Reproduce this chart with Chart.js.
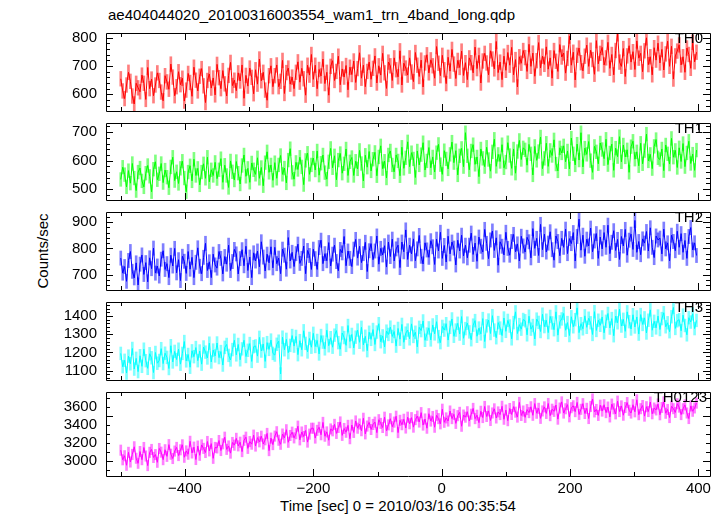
<!DOCTYPE html>
<html>
<head>
<meta charset="utf-8">
<script src="https://cdn.jsdelivr.net/npm/chart.js@4.4.1/dist/chart.umd.min.js"></script>
<style>
  body { margin:0; background:#fff; width:724px; height:516px; position:relative; overflow:hidden;
         font-family:"Liberation Sans", Arial, sans-serif; }
  canvas { position:absolute; left:0; }
  .lbl { position:absolute; font-size:15px; line-height:15px; color:#000; white-space:nowrap; }
</style>
</head>
<body>
<div class="lbl" style="left:108px;top:7px">ae404044020_20100316003554_wam1_trn_4band_long.qdp</div>
<div class="lbl" id="ylab" style="left:42px;top:251px;transform:translate(-50%,-50%) rotate(-90deg)">Counts/sec</div>
<div class="lbl" style="left:398px;top:498px;transform:translateX(-50%)">Time [sec] 0 = 2010/03/16 00:35:54</div>
<script>
// light curve, 3 s bins (first bin at -500 s)
const t0 = -500, dt = 3;

const th0 = [
  655,612,585,633,678,646,594,566,639,623, 609,668,639,582,695,620,654,595,633,676,
  649,608,577,666,644,618,707,661,595,627, 680,634,657,576,615,674,642,593,696,650,
  612,664,691,630,571,649,672,622,658,598, 706,659,620,684,637,594,667,713,631,650,
  613,676,647,704,586,667,629,693,660,602, 687,636,725,648,678,615,579,666,701,627,
  666,704,627,646,720,603,677,693,636,661, 620,678,715,643,692,655,597,703,668,741,
  653,703,620,688,665,725,638,678,597,699, 719,649,681,735,634,690,661,702,616,696,
  670,718,642,691,747,657,703,627,681,714, 653,692,736,640,701,668,745,676,621,714,
  701,649,729,687,662,754,633,710,693,668, 729,679,645,748,703,663,721,626,711,740,
  676,722,701,657,769,710,666,738,687,638, 731,682,759,707,656,720,695,753,667,712,
  652,729,712,676,767,691,738,640,718,745, 711,669,754,725,690,787,677,714,652,735,
  685,748,703,766,669,723,626,733,710,755, 730,681,777,699,746,664,719,783,693,735,
  706,768,689,729,657,755,717,681,776,732, 746,675,727,806,703,749,651,738,764,712,
  683,735,774,699,756,723,671,790,708,745, 766,704,729,784,692,741,669,755,814,714,
  699,762,663,736,772,714,751,688,789,728, 745,680,754,800,705,733,669,765,721,781,
  711,759,686,743,788,699,770,654,736,753, 775,704,733,678,764,741,692,784,715,749
];
const th1 = [
  534,577,551,508,565,521,590,539,495,560, 574,529,508,556,583,545,491,570,596,533,
  554,590,523,567,542,505,578,612,530,561, 520,573,598,539,491,560,582,529,605,548,
  573,515,560,589,538,612,526,568,548,594, 537,568,607,524,584,548,506,599,561,532,
  597,556,518,583,620,545,573,524,592,568, 552,610,538,576,512,593,631,559,585,531,
  593,538,585,618,552,574,522,602,642,559, 535,594,569,612,578,516,601,626,552,585,
  609,567,634,549,591,620,558,535,596,643, 575,617,533,602,625,556,589,641,548,596,
  611,548,598,571,636,590,529,619,577,632, 564,605,629,547,613,652,572,598,539,620,
  634,585,561,620,599,547,647,573,610,666, 579,628,606,541,634,585,621,663,567,599,
  646,575,613,560,628,657,586,552,635,606, 571,622,665,593,635,550,617,643,579,698,
  617,568,634,656,587,613,544,641,608,579, 647,604,563,631,675,580,622,597,656,575,
  595,663,618,573,641,556,632,671,604,645, 638,584,657,624,550,650,601,632,683,572,
  608,661,580,636,618,673,588,564,645,627, 652,596,634,571,679,624,585,658,602,698,
  578,644,622,667,600,559,650,631,589,662, 639,607,675,586,627,658,566,644,614,684,
  596,655,613,638,559,649,668,605,631,582, 661,589,635,693,599,622,572,650,674,610,
  604,641,565,655,624,588,678,612,636,576, 645,597,660,579,627,668,590,623,566,637
];
const th2 = [
  763,706,731,675,754,788,713,688,745,661, 740,775,701,746,673,764,723,801,706,733,
  695,759,791,720,742,689,774,733,800,707, 757,678,770,751,705,788,721,766,689,747,
  802,732,704,766,819,716,749,689,778,737, 725,788,762,703,769,740,812,716,750,796,
  779,703,761,795,734,808,716,767,689,783, 752,790,730,825,767,714,778,745,806,726,
  804,742,763,704,797,774,721,841,752,785, 731,780,816,743,762,809,704,792,773,720,
  797,761,720,803,831,742,780,753,822,733, 778,812,750,715,796,783,845,734,790,762,
  731,797,834,763,808,746,780,823,712,791, 818,757,790,847,740,800,775,810,729,824,
  769,835,752,798,812,727,824,787,870,758, 812,779,836,753,798,849,770,741,821,794,
  766,829,806,739,835,790,861,762,811,748, 846,779,824,801,737,831,790,850,771,812,
  764,812,858,777,820,751,843,808,786,872, 819,761,832,866,792,840,736,825,808,775,
  861,800,774,826,853,787,817,752,846,809, 786,842,825,764,875,800,838,773,891,795,
  854,786,820,863,795,755,847,826,772,838, 804,873,780,837,818,860,752,845,911,793,
  850,770,835,809,877,787,828,856,762,843, 798,860,804,888,780,823,867,792,834,758,
  845,809,872,774,831,854,796,906,785,826, 776,836,820,864,790,878,804,765,847,832,
  839,779,873,798,821,752,850,826,791,865, 804,856,785,830,762,845,879,794,821,773
];
const th3 = [
  1195,1122,1157,1087,1180,1138,1222,1109,1168,1095, 1182,1124,1218,1155,1113,1193,1171,1090,1200,1141,
  1156,1221,1139,1196,1173,1112,1237,1148,1206,1161, 1218,1136,1195,1260,1154,1189,1119,1209,1177,1227,
  1155,1208,1136,1230,1202,1170,1251,1148,1213,1181, 1252,1172,1205,1131,1228,1244,1184,1159,1216,1267,
  1187,1244,1160,1220,1267,1178,1212,1249,1151,1232, 1236,1180,1283,1208,1247,1151,1254,1217,1268,1195,
  1186,1245,1262,1082,1284,1215,1272,1199,1239,1293, 1235,1288,1188,1265,1215,1319,1250,1203,1277,1229,
  1305,1233,1266,1192,1293,1257,1220,1322,1237,1281, 1229,1295,1320,1254,1218,1307,1282,1239,1348,1260,
  1299,1225,1284,1323,1256,1338,1242,1289,1210,1311, 1272,1326,1244,1312,1358,1259,1291,1230,1317,1299,
  1339,1288,1315,1235,1332,1273,1354,1256,1306,1323, 1275,1357,1288,1311,1231,1338,1320,1373,1267,1301,
  1335,1269,1351,1302,1369,1287,1254,1343,1323,1358, 1268,1338,1384,1289,1323,1360,1301,1397,1278,1331,
  1361,1313,1270,1350,1375,1289,1334,1302,1386,1260, 1346,1378,1304,1402,1323,1281,1364,1334,1293,1389,
  1316,1376,1345,1275,1364,1423,1304,1353,1328,1381, 1374,1297,1399,1328,1348,1274,1383,1365,1315,1410,
  1342,1377,1309,1398,1362,1325,1423,1295,1368,1384, 1414,1322,1364,1293,1396,1341,1380,1445,1309,1358,
  1330,1401,1338,1388,1363,1299,1424,1321,1377,1349, 1395,1308,1371,1414,1334,1386,1292,1400,1363,1438,
  1345,1382,1316,1423,1369,1329,1407,1340,1395,1301, 1408,1354,1390,1307,1377,1434,1322,1371,1335,1400,
  1326,1386,1418,1341,1363,1314,1396,1447,1332,1374, 1380,1319,1405,1348,1297,1391,1367,1412,1331,1376
];
const th0123 = [
  3121,3014,3059,2953,3097,2989,3074,3159,3031,2975, 3106,3015,3151,3056,2949,3097,3129,3040,3072,2986,
  3140,3099,3015,3126,3052,3183,3076,3028,3111,3152, 3061,3125,3181,3042,3113,3076,3220,3090,3155,3017,
  3167,3064,3180,3141,3095,3218,3113,3194,3030,3152, 3146,3229,3117,3192,3266,3130,3168,3088,3207,3177,
  3253,3169,3210,3105,3231,3266,3141,3217,3188,3289, 3167,3261,3214,3277,3190,3237,3308,3116,3256,3183,
  3278,3327,3232,3187,3301,3258,3349,3209,3285,3322, 3258,3305,3389,3236,3324,3273,3341,3211,3300,3366,
  3366,3256,3342,3377,3293,3431,3277,3325,3232,3358, 3337,3409,3308,3374,3436,3286,3363,3321,3398,3249,
  3402,3319,3447,3366,3413,3338,3477,3303,3390,3431, 3352,3408,3434,3317,3461,3420,3374,3489,3339,3403,
  3472,3383,3434,3500,3317,3454,3405,3466,3368,3489, 3416,3484,3378,3462,3501,3435,3540,3401,3469,3366,
  3528,3446,3497,3377,3510,3473,3415,3578,3432,3481, 3446,3558,3473,3521,3420,3506,3543,3388,3513,3489,
  3550,3446,3522,3587,3473,3511,3428,3555,3485,3609, 3497,3559,3452,3536,3582,3480,3548,3518,3611,3466,
  3569,3450,3586,3519,3607,3545,3490,3654,3508,3558, 3487,3574,3540,3605,3510,3641,3533,3588,3476,3559,
  3604,3531,3642,3506,3578,3554,3625,3467,3591,3660, 3535,3583,3629,3493,3595,3616,3551,3654,3520,3577,
  3640,3530,3588,3474,3609,3692,3548,3575,3509,3623, 3557,3628,3540,3602,3492,3635,3583,3526,3668,3552,
  3615,3511,3597,3652,3566,3535,3628,3549,3683,3517, 3584,3619,3501,3606,3552,3658,3527,3591,3570,3636,
  3516,3597,3660,3533,3575,3485,3611,3584,3542,3639, 3601,3518,3583,3626,3536,3474,3615,3555,3592,3646
];

const bands   = ['TH0','TH1','TH2','TH3','TH0123'];
const series  = [th0, th1, th2, th3, th0123];
const errHalf = [26, 24, 27, 35, 58];          // 1-sigma error bars
const yMin    = [541, 462, 642, 1049, 2833];
const yMax    = [817, 732, 938, 1477, 3770];
const yTicks  = [[600,700,800],[500,600,700],[700,800,900],[1100,1200,1300,1400],[3000,3200,3400,3600]];
const yMinor  = [20, 20, 20, 20, 100];
const xTicks  = [-400,-200,0,200,400];
const xMin = -523, xMax = 418;

const colors = ['#ff0000','#00ff00','#0000ff','#00ffff','#ff00ff'];
const lights = ['rgba(255,0,0,0.5)','rgba(0,255,0,0.5)','rgba(0,0,255,0.5)','rgba(0,255,255,0.5)','rgba(255,0,255,0.5)'];

const panelTop = [27, 117, 206, 296, 386];
const panelBot = [117, 206, 296, 386, 476];
const FONT = '"Liberation Sans", Arial, sans-serif';

const minus = v => v < 0 ? '\u2212' + Math.abs(v) : String(v);

// frame + inward ticks like qdp/pgplot
const framePlugin = {
  id: 'frame',
  afterDatasetsDraw(chart, args, opts) {
    const {ctx, chartArea: a, scales: {x, y}} = chart;
    ctx.save();
    ctx.strokeStyle = '#000';
    ctx.lineWidth = 1;
    ctx.beginPath();
    ctx.moveTo(a.left + 0.5, a.top + 0.5); ctx.lineTo(a.right + 0.5, a.top + 0.5);
    ctx.lineTo(a.right + 0.5, a.bottom + 0.5); ctx.lineTo(a.left + 0.5, a.bottom + 0.5);
    ctx.closePath();
    const step = opts.minor, big = step * 5;
    for (let v = Math.ceil(y.min / step) * step; v <= y.max; v += step) {
      const len = v % big === 0 ? 7 : 4;
      const py = Math.round(y.getPixelForValue(v)) + 0.5;
      ctx.moveTo(a.left, py); ctx.lineTo(a.left + len, py);
      ctx.moveTo(a.right, py); ctx.lineTo(a.right - len, py);
    }
    for (let v = -500; v <= 400; v += 100) {
      const len = v % 200 === 0 ? 7 : 4;
      const px = Math.round(x.getPixelForValue(v)) + 0.5;
      ctx.moveTo(px, a.top); ctx.lineTo(px, a.top + len);
      ctx.moveTo(px, a.bottom); ctx.lineTo(px, a.bottom - len);
    }
    ctx.stroke();
    ctx.restore();
  }
};

function makePanel(i) {
  const last = i === 4;
  const vals = series[i];
  const times = vals.map((_, k) => t0 + k * dt);
  const cTop = panelTop[i] - 12;
  const cH = last ? 516 - cTop : (panelBot[i] - panelTop[i]) + 24;
  const c = document.createElement('canvas');
  c.width = 724; c.height = cH;
  c.style.top = cTop + 'px'; c.style.width = '724px'; c.style.height = cH + 'px';
  document.body.appendChild(c);

  new Chart(c, {
    type: 'line',
    data: {
      datasets: [
        { type: 'line', data: vals.map((v, k) => ({x: times[k], y: v})),
          borderColor: colors[i], borderWidth: 1, pointRadius: 0, tension: 0, order: 0 },
        { type: 'bar', data: vals.map((v, k) => ({x: times[k], y: [v - errHalf[i], v + errHalf[i]]})),
          backgroundColor: lights[i], borderWidth: 0, barThickness: 2, grouped: false, order: 1 }
      ]
    },
    options: {
      responsive: false, animation: false, events: [],
      layout: { padding: { left: 0, right: 14, top: 12, bottom: last ? 0 : 12 } },
      plugins: { legend: { display: false }, tooltip: { enabled: false }, frame: { minor: yMinor[i] } },
      scales: {
        x: {
          type: 'linear', min: xMin, max: xMax, display: last, offset: false,
          grid: { display: false, drawTicks: false }, border: { display: false },
          afterBuildTicks: s => { s.ticks = xTicks.map(v => ({value: v})); },
          afterFit: s => { if (last) s.height = 40; },
          ticks: { font: { family: FONT, size: 15 }, color: '#000', padding: 4, maxRotation: 0, autoSkip: false,
                   callback: v => minus(v) }
        },
        y: {
          type: 'linear', min: yMin[i], max: yMax[i],
          grid: { display: false, drawTicks: false }, border: { display: false },
          afterBuildTicks: s => { s.ticks = yTicks[i].map(v => ({value: v})); },
          afterFit: s => { s.width = 106; },
          ticks: { font: { family: FONT, size: 15 }, color: '#000', padding: 9, autoSkip: false,
                   callback: v => String(v) }
        }
      }
    },
    plugins: [framePlugin]
  });

  const lab = document.createElement('div');
  lab.className = 'lbl';
  lab.textContent = bands[i];
  lab.style.top = (panelTop[i] + 3) + 'px';
  lab.style.right = (last ? 17 : 21) + 'px';
  document.body.appendChild(lab);
}

for (let i = 0; i < 5; i++) makePanel(i);
</script>
</body>
</html>
